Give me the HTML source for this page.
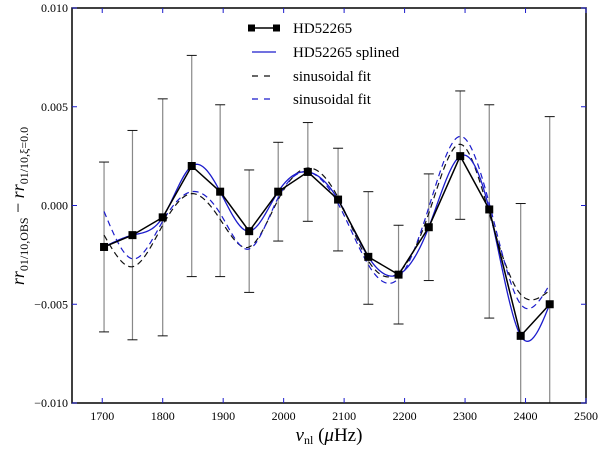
<!DOCTYPE html>
<html><head><meta charset="utf-8"><style>
body{margin:0;background:#fff;}
svg text{font-family:"Liberation Serif",serif;}
</style></head><body>
<svg id="chart" width="600" height="445" xmlns="http://www.w3.org/2000/svg">
<g id="grid"></g>
</svg>
<script>
const freqs=[1703,1750,1800,1848,1895,1943,1991,2040,2090,2140,2190,2240,2292,2340,2392,2440];
const obs=[-0.0021,-0.0015,-0.0006,0.0020,0.0007,-0.0013,0.0007,0.0017,0.0003,-0.0026,-0.0035,-0.0011,0.0025,-0.0002,-0.0066,-0.0050];
const errUp=[0.0022,0.0038,0.0054,0.0076,0.0051,0.0018,0.0032,0.0042,0.0029,0.0007,-0.0010,0.0016,0.0058,0.0051,0.0001,0.0045];
const errLo=[-0.0064,-0.0068,-0.0066,-0.0036,-0.0036,-0.0044,-0.0018,-0.0008,-0.0023,-0.0050,-0.0060,-0.0038,-0.0007,-0.0057,-0.0110,-0.0110];
const sinBlack=[-0.0015,-0.0031,-0.0010,0.0006,-0.0007,-0.0021,0.0003,0.0019,0.0004,-0.0028,-0.0034,-0.0004,0.0031,-0.0004,-0.0045,-0.0043];
const sinBlue=[-0.0003,-0.0027,-0.0008,0.0007,-0.0004,-0.0022,0.0004,0.0017,0.0001,-0.0030,-0.0037,-0.0001,0.0035,0.0001,-0.0050,-0.0040];
const xTicks=[1700,1800,1900,2000,2100,2200,2300,2400,2500];
const yTicks=[-0.010,-0.005,0.000,0.005,0.010];
const yTickLabels=["−0.010","−0.005","0.000","0.005","0.010"];

const L=72,R=586,T=8,B=403,X0=1650,X1=2500,Y0=-0.010,Y1=0.010;
const sx=v=>L+(v-X0)/(X1-X0)*(R-L);
const sy=v=>B-(v-Y0)/(Y1-Y0)*(B-T);
const svg=document.getElementById('chart');
const NS='http://www.w3.org/2000/svg';
function mk(tag,attrs,parent){const e=document.createElementNS(NS,tag);for(const k in attrs)e.setAttribute(k,attrs[k]);(parent||svg).appendChild(e);return e;}

// clip
const defs=mk('defs',{});const cp=mk('clipPath',{id:'clip'},defs);mk('rect',{x:L,y:T,width:R-L,height:B-T},cp);
const plot=mk('g',{'clip-path':'url(#clip)'});



// natural cubic spline
function spline(xs,ys,n){const m=xs.length,h=[],a=[],l=[1],mu=[0],z=[0],c=new Array(m).fill(0),b=[],d=[];
for(let i=0;i<m-1;i++)h.push(xs[i+1]-xs[i]);
for(let i=1;i<m-1;i++)a[i]=3/h[i]*(ys[i+1]-ys[i])-3/h[i-1]*(ys[i]-ys[i-1]);
for(let i=1;i<m-1;i++){l[i]=2*(xs[i+1]-xs[i-1])-h[i-1]*mu[i-1];mu[i]=h[i]/l[i];z[i]=(a[i]-h[i-1]*z[i-1])/l[i];}
for(let j=m-2;j>=0;j--){c[j]=(j<m-2||true)?(z[j]||0)-(mu[j]||0)*c[j+1]:0;b[j]=(ys[j+1]-ys[j])/h[j]-h[j]*(c[j+1]+2*c[j])/3;d[j]=(c[j+1]-c[j])/(3*h[j]);}
c[0]=0;
for(let j=0;j<m-1;j++){b[j]=(ys[j+1]-ys[j])/h[j]-h[j]*(c[j+1]+2*c[j])/3;d[j]=(c[j+1]-c[j])/(3*h[j]);}
const pts=[];for(let j=0;j<m-1;j++){for(let k=0;k<n;k++){const t=h[j]*k/n;pts.push([xs[j]+t,ys[j]+b[j]*t+c[j]*t*t+d[j]*t*t*t]);}}
pts.push([xs[m-1],ys[m-1]]);return pts;}
function pathOf(pts){return pts.map((p,i)=>(i?'L':'M')+sx(p[0]).toFixed(2)+','+sy(p[1]).toFixed(2)).join('');}

// error bars
freqs.forEach((f,i)=>{const g=mk('g',{},plot);


const x=sx(f);mk('line',{x1:x,x2:x,y1:sy(errUp[i]),y2:sy(errLo[i]),stroke:'#888','stroke-width':1.2},g);
mk('line',{x1:x-5,x2:x+5,y1:sy(errUp[i]),y2:sy(errUp[i]),stroke:'#111','stroke-width':1},g);
mk('line',{x1:x-5,x2:x+5,y1:sy(errLo[i]),y2:sy(errLo[i]),stroke:'#111','stroke-width':1},g);});

const pb=mk('path',{d:pathOf(spline(freqs,sinBlack,20)),fill:'none',stroke:'#111','stroke-width':1.2,'stroke-dasharray':'6,4'},plot);


const pbl=mk('path',{d:pathOf(spline(freqs,sinBlue,20)),fill:'none',stroke:'#1c1ccc','stroke-width':1.2,'stroke-dasharray':'6,4'},plot);


const ps=mk('path',{d:pathOf(spline(freqs,obs,20)),fill:'none',stroke:'#1c1ccc','stroke-width':1.3},plot);


const po=mk('path',{d:pathOf(freqs.map((f,i)=>[f,obs[i]])),fill:'none',stroke:'#000','stroke-width':1.5},plot);


freqs.forEach((f,i)=>{const r=mk('rect',{x:sx(f)-4,y:sy(obs[i])-4,width:8,height:8,fill:'#000'},plot);

});

// frame
const fr=mk('rect',{x:L,y:T,width:R-L,height:B-T,fill:'none',stroke:'#000','stroke-width':1.5});


xTicks.forEach(v=>{const x=sx(v);
mk('line',{x1:x,x2:x,y1:B,y2:B-5,stroke:'#1c1ccc'});mk('line',{x1:x,x2:x,y1:T,y2:T+5,stroke:'#1c1ccc'});
const t=mk('text',{x:x,y:B+17,'text-anchor':'middle','font-size':12});t.textContent=v;

});
yTicks.forEach((v,i)=>{const y=sy(v);
mk('line',{x1:L,x2:L+5,y1:y,y2:y,stroke:'#1c1ccc'});mk('line',{x1:R,x2:R-5,y1:y,y2:y,stroke:'#1c1ccc'});
const t=mk('text',{x:L-4,y:y+4,'text-anchor':'end','font-size':12});t.textContent=yTickLabels[i];

});
</script>
<svg style="position:absolute;left:0;top:0" width="600" height="445" xmlns="http://www.w3.org/2000/svg">
<g>
 <line x1="250" x2="278" y1="28" y2="28" stroke="#000" stroke-width="1.5"/>
 <rect x="248" y="24.5" width="7" height="7" fill="#000"/><rect x="273" y="24.5" width="7" height="7" fill="#000"/>
 <text x="293" y="33" font-size="15" font-family="Liberation Serif,serif">HD52265</text>
 <line x1="252" x2="276" y1="52" y2="52" stroke="#1c1ccc" stroke-width="1.3"/>
 <text x="293" y="57" font-size="15" font-family="Liberation Serif,serif">HD52265 splined</text>
 <line x1="252" x2="276" y1="76" y2="76" stroke="#111" stroke-width="1.3" stroke-dasharray="6,6"/>
 <text x="293" y="81" font-size="15" font-family="Liberation Serif,serif">sinusoidal fit</text>
 <line x1="252" x2="276" y1="99" y2="99" stroke="#1c1ccc" stroke-width="1.3" stroke-dasharray="6,6"/>
 <text x="293" y="104" font-size="15" font-family="Liberation Serif,serif">sinusoidal fit</text>
</g>
<text x="329" y="441" text-anchor="middle" font-size="19" font-family="Liberation Serif,serif"><tspan font-style="italic">ν</tspan><tspan font-size="12" dy="3">nl</tspan><tspan dy="-3"> (</tspan><tspan font-style="italic">μ</tspan>Hz)</text>
<text transform="translate(24,206) rotate(-90)" text-anchor="middle" font-size="18" font-family="Liberation Serif,serif"><tspan font-style="italic">rr</tspan><tspan font-size="12" dy="4">01/10,OBS</tspan><tspan dy="-4"> − </tspan><tspan font-style="italic">rr</tspan><tspan font-size="12" dy="4">01/10,ξ=0.0</tspan></text>
</svg>
</body></html>
